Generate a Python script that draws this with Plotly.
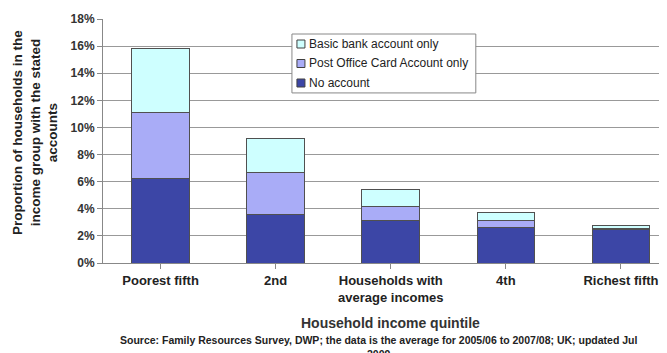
import plotly.graph_objects as go

categories = ["Poorest fifth", "2nd", "Households with<br>average incomes", "4th", "Richest fifth"]
no_account = [6.2, 3.6, 3.15, 2.65, 2.45]
post_office = [4.9, 3.05, 1.05, 0.45, 0.1]
basic_bank = [4.7, 2.55, 1.25, 0.6, 0.18]
series_names = ["No account", "Post Office Card Account only", "Basic bank account only"]
series_colors = ["#3C46A6", "#A9ACF7", "#CEFFFF"]
y_ticks = [0, 2, 4, 6, 8, 10, 12, 14, 16, 18]
y_tick_labels = [f"{v}%" for v in y_ticks]

font_family = "Liberation Sans, Arial, sans-serif"
line = dict(color="#505050", width=1)

fig = go.Figure()
for vals, name, col in zip([no_account, post_office, basic_bank], series_names, series_colors):
    fig.add_bar(x=list(range(5)), y=vals, name=name,
                marker=dict(color=col, line=line), width=0.5)

fig.update_layout(
    barmode="stack",
    width=659, height=345,
    margin=dict(l=95, r=0, t=11, b=90),
    paper_bgcolor="white", plot_bgcolor="white",
    font=dict(family=font_family, color="#222"),
    showlegend=False,
    xaxis=dict(range=[-0.5, 4.4], tickmode="array", tickvals=list(range(5)),
               ticktext=[f"<b>{c}</b>" for c in categories],
               tickfont=dict(size=13, color="#222"),
               showline=True, linecolor="#888", linewidth=1,
               ticks="outside", tickson="boundaries", ticklen=5, tickcolor="#888",
               showgrid=False, zeroline=False),
    yaxis=dict(range=[0, 18], tickmode="array", tickvals=y_ticks,
               ticktext=[f"<b>{t}</b>" for t in y_tick_labels],
               tickfont=dict(size=12, color="#333"),
               showline=True, linecolor="#888", linewidth=1,
               ticks="outside", ticklen=5, tickcolor="#888",
               showgrid=True, gridcolor="#999", gridwidth=1, zeroline=False),
)

# Legend box (drawn manually to match compact Excel-style legend)
box_x0, box_x1, box_y0, box_y1 = 0.335, 0.661, 0.697, 0.9385
fig.add_shape(type="rect", xref="paper", yref="paper", x0=box_x0, x1=box_x1,
              y0=box_y0, y1=box_y1, fillcolor="white", line=dict(color="#888", width=1),
              layer="above")
row_step = 19.5 / 244
first_row = (263 - 44) / 244
sq_w = 8 / 564
sq_h = 8 / 244
for i, idx in enumerate([2, 1, 0]):
    yc = first_row - i * row_step
    fig.add_shape(type="rect", xref="paper", yref="paper",
                  x0=box_x0 + 5 / 564, x1=box_x0 + 5 / 564 + sq_w,
                  y0=yc - sq_h / 2, y1=yc + sq_h / 2,
                  fillcolor=series_colors[idx], line=dict(color="#404040", width=1),
                  layer="above")
    fig.add_annotation(text=series_names[idx], xref="paper", yref="paper",
                       x=box_x0 + 15 / 564, y=yc, xanchor="left", yanchor="middle",
                       showarrow=False, font=dict(size=12, color="#222"))

fig.add_annotation(text="<b>Proportion of households in the<br>income group with the stated<br>accounts</b>",
                   xref="paper", yref="paper", x=-0.1206, y=0.537, textangle=-90,
                   showarrow=False, font=dict(size=13.5, color="#222"),
                   xanchor="center", yanchor="middle")
fig.add_annotation(text="<b>Household income quintile</b>", xref="x", yref="paper",
                   x=2, y=-0.246, showarrow=False, yanchor="middle",
                   font=dict(size=14, color="#333"))
fig.add_annotation(text="<b>Source: Family Resources Survey, DWP; the data is the average for 2005/06 to 2007/08; UK; updated Jul<br>2009</b>",
                   xref="x", yref="paper", x=1.89, y=-0.283, showarrow=False,
                   yanchor="top", font=dict(size=10.5, color="#222"))

fig.write_html("out.html")
